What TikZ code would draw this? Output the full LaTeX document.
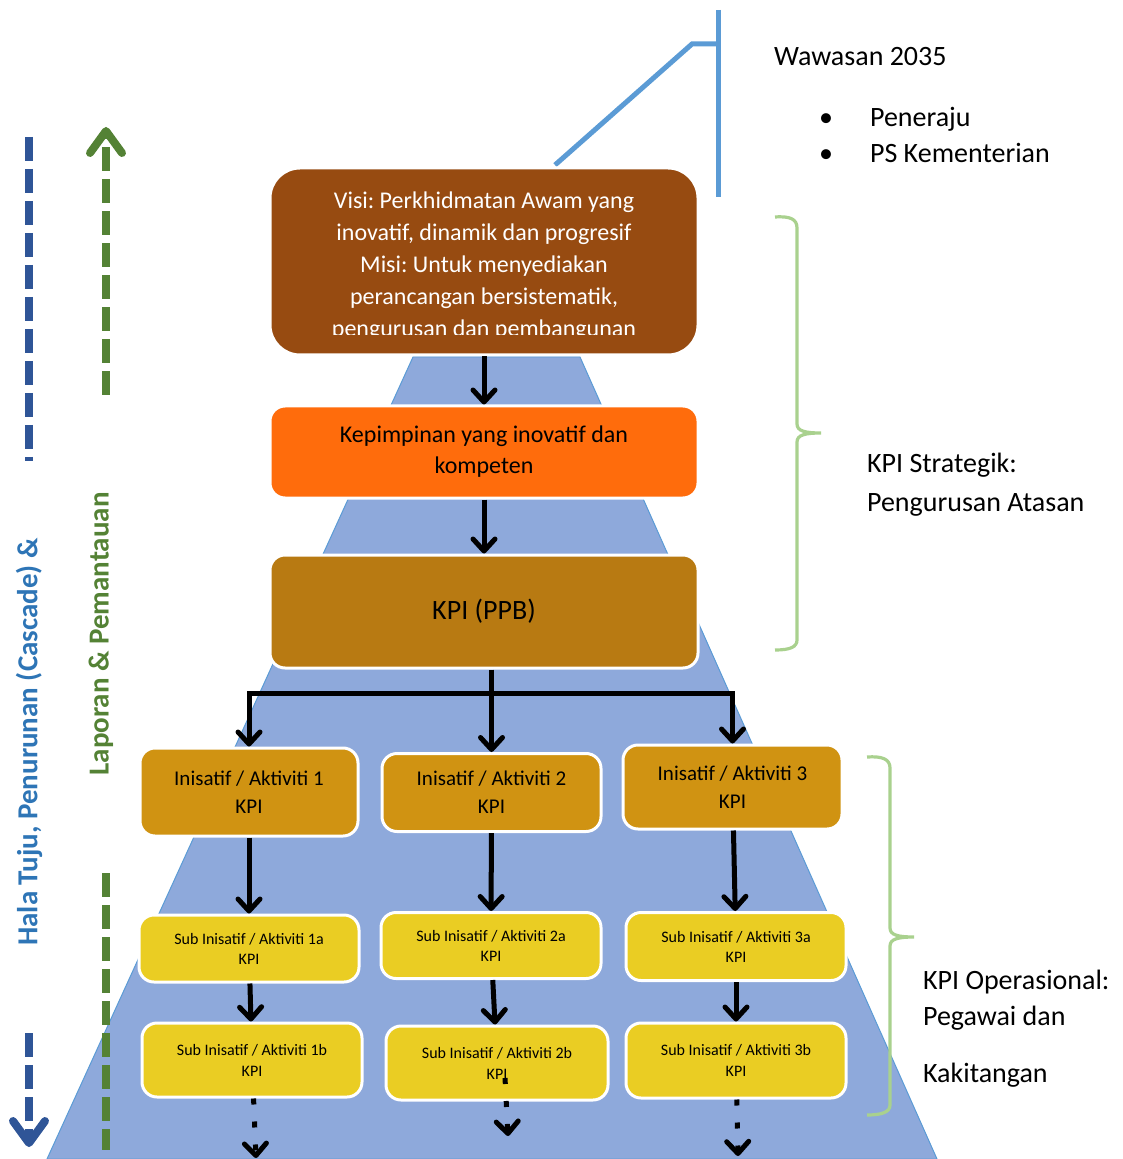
\documentclass[tikz,border=0pt]{standalone}
\usepackage{fontspec}
\setmainfont{Carlito}[Extension=.ttf,UprightFont=*-Regular,BoldFont=*-Bold,ItalicFont=*-Italic,BoldItalicFont=*-BoldItalic]
\frenchspacing
\usetikzlibrary{arrows.meta}

\definecolor{visibrown}{HTML}{974B11}
\definecolor{kiporange}{HTML}{FF6C0C}
\definecolor{ppbgold}{HTML}{B87A12}
\definecolor{inigold}{HTML}{D09312}
\definecolor{subyellow}{HTML}{EACD23}
\definecolor{pyrblue}{HTML}{8EA9DB}
\definecolor{pyredge}{HTML}{5B9BD5}
\definecolor{topblue}{HTML}{5B9BD5}
\definecolor{bracegreen}{HTML}{A9D18E}
\definecolor{cascblue}{HTML}{2F5597}
\definecolor{halablue}{HTML}{2E75B6}
\definecolor{lapgreen}{HTML}{548235}

\begin{document}
\begin{tikzpicture}[x=0.5pt,y=-0.5pt,
    box/.style={draw=white,line width=1.5pt,rounded corners=7.5pt,align=center,inner sep=0pt},
    arr/.style={line width=2.5pt,-{Straight Barb[length=6pt,width=11pt,round]}},
    dotarr/.style={line width=2.5pt,dash pattern=on 3pt off 8.5pt,-{Straight Barb[length=6pt,width=11pt,round]}},
    bigarr/.style={line width=4pt,dash pattern=on 12pt off 4pt,-{Straight Barb[length=11pt,width=16pt,round]}},
    brace/.style={draw=bracegreen,line width=1.6pt},
    sidetext/.style={anchor=west,align=left,font=\fontsize{14}{18}\selectfont}]
    \useasboundingbox (0,0) rectangle (1122,1159);

    % pyramid behind the boxes
    \fill[pyrblue,draw=pyredge,line width=0.5pt] (413,357) -- (580,357) -- (937,1159) -- (47,1159) -- cycle;

    % Wawasan marker
    \draw[topblue,line width=2.5pt] (718,10) -- (718,197);
    \draw[topblue,line width=2.5pt] (718,44) -- (692,44) -- (555,165);

    % boxes
    \node[box,fill=visibrown,rounded corners=15pt,minimum width=214pt,minimum height=93.5pt] (visi) at (484,261.5) {};
    \begin{scope}
        \clip (270,168) rectangle (698,335);
        \node[align=center,text=white,font=\fontsize{12}{16}\selectfont] (visitext) at (484,266)
            {Visi: Perkhidmatan Awam yang\\inovatif, dinamik dan progresif\\Misi: Untuk menyediakan\\perancangan bersistematik,\\pengurusan dan pembangunan};
    \end{scope}
    \node[box,fill=kiporange,minimum width=214pt,minimum height=46pt,font=\fontsize{12}{15.5}\selectfont] (kep) at (484,452) {Kepimpinan yang inovatif dan\\kompeten};
    \node[box,fill=ppbgold,minimum width=214pt,minimum height=56.5pt,font=\fontsize{14}{17}\selectfont] (ppb) at (484,611.5) {KPI (PPB)};

    \node[box,fill=inigold,minimum width=109pt,minimum height=44pt,font=\fontsize{10.5}{14}\selectfont] (ini1) at (249,792) {Inisatif / Aktiviti 1\\KPI};
    \node[box,fill=inigold,minimum width=109.5pt,minimum height=39pt,font=\fontsize{10.5}{14}\selectfont] (ini2) at (491.5,792.5) {Inisatif / Aktiviti 2\\KPI};
    \node[box,fill=inigold,minimum width=109.5pt,minimum height=42pt,font=\fontsize{10.5}{14}\selectfont] (ini3) at (732.5,787) {Inisatif / Aktiviti 3\\KPI};

    \node[box,fill=subyellow,minimum width=110pt,minimum height=33.5pt,font=\fontsize{8}{10}\selectfont] (suba1) at (249,948.5) {Sub Inisatif / Aktiviti 1a\\KPI};
    \node[box,fill=subyellow,minimum width=110pt,minimum height=33pt,font=\fontsize{8}{10}\selectfont] (suba2) at (491,945.5) {Sub Inisatif / Aktiviti 2a\\KPI};
    \node[box,fill=subyellow,minimum width=110pt,minimum height=34pt,font=\fontsize{8}{10}\selectfont] (suba3) at (736,946.5) {Sub Inisatif / Aktiviti 3a\\KPI};

    \node[box,fill=subyellow,minimum width=110pt,minimum height=37pt,font=\fontsize{8}{10.5}\selectfont] (subb1) at (252,1060) {Sub Inisatif / Aktiviti 1b\\KPI};
    \node[box,fill=subyellow,minimum width=111pt,minimum height=37pt,font=\fontsize{8}{10.5}\selectfont] (subb2) at (497,1063) {Sub Inisatif / Aktiviti 2b\\KPI};
    \node[box,fill=subyellow,minimum width=110pt,minimum height=37.5pt,font=\fontsize{8}{10.5}\selectfont] (subb3) at (736,1060.5) {Sub Inisatif / Aktiviti 3b\\KPI};

    % connectors
    \draw[arr] (visi) -- (kep);
    \draw[arr] (kep) -- (ppb);
    \coordinate (split) at (491.5,693);
    \draw[line width=2.5pt] (ppb.south -| split) -- (split);
    \draw[arr] (split) -| (ini1);
    \draw[arr] (split) -- (ini2);
    \draw[arr] (split) -| (ini3);
    \draw[arr] (ini1) -- (suba1);
    \draw[arr] (ini2) -- (suba2);
    \draw[arr] (ini3) -- (suba3);
    \draw[arr] (suba1) -- (subb1);
    \draw[arr] (suba2) -- (subb2);
    \draw[arr] (suba3) -- (subb3);
    \coordinate (down1) at (256,1158);
    \coordinate (dot2) at (505,1078);
    \coordinate (down2) at (508,1136);
    \coordinate (down3) at (738,1156);
    \draw[dotarr] (subb1) -- (down1);
    \draw[dotarr] (dot2) -- (down2);
    \draw[dotarr] (subb3) -- (down3);

    % braces
    \draw[brace] (775,217) .. controls (790,216) and (797,219) .. (797,228) -- (797,424)
        .. controls (797,431) and (805,433) .. (821,433) .. controls (805,433) and (797,435) .. (797,442)
        -- (797,640) .. controls (797,647) and (790,650) .. (775,650);
    \draw[brace] (867,757) .. controls (882,756) and (890,759) .. (890,768) -- (890,928)
        .. controls (890,935) and (898,937) .. (914,937) .. controls (898,937) and (890,939) .. (890,946)
        -- (890,1105) .. controls (890,1112) and (882,1115) .. (867,1115);

    % side arrows
    \draw[cascblue,line width=4pt,dash pattern=on 12pt off 4pt] (29,137) -- (29,461);
    \draw[bigarr,cascblue] (29,1033) -- (29,1147);
    \draw[bigarr,lapgreen] (106,395) -- (106,127);
    \draw[lapgreen,line width=4pt,dash pattern=on 12pt off 4pt] (106,873) -- (106,1150);
    \node[rotate=90,text=halablue,font=\bfseries\fontsize{14.5}{17}\selectfont] (halatuju) at (29,742) {Hala Tuju, Penurunan (Cascade) \&};
    \node[rotate=90,text=lapgreen,font=\bfseries\fontsize{14.5}{17}\selectfont] (laporan) at (101,634) {Laporan \& Pemantauan};

    % side texts
    \node[sidetext] (wawasan) at (767,57) {Wawasan 2035};
    \node[sidetext] (peneraju) at (812,135) {\makebox[25.5pt][l]{•}Peneraju\\\makebox[25.5pt][l]{•}PS Kementerian};
    \node[sidetext,font=\fontsize{14}{19.5}\selectfont] (strategik) at (860,485) {KPI Strategik:\\Pengurusan Atasan};
    \node[sidetext] (operasional) at (916,1029) {KPI Operasional:\\Pegawai dan\\[10.5pt]Kakitangan};
\end{tikzpicture}
\end{document}
